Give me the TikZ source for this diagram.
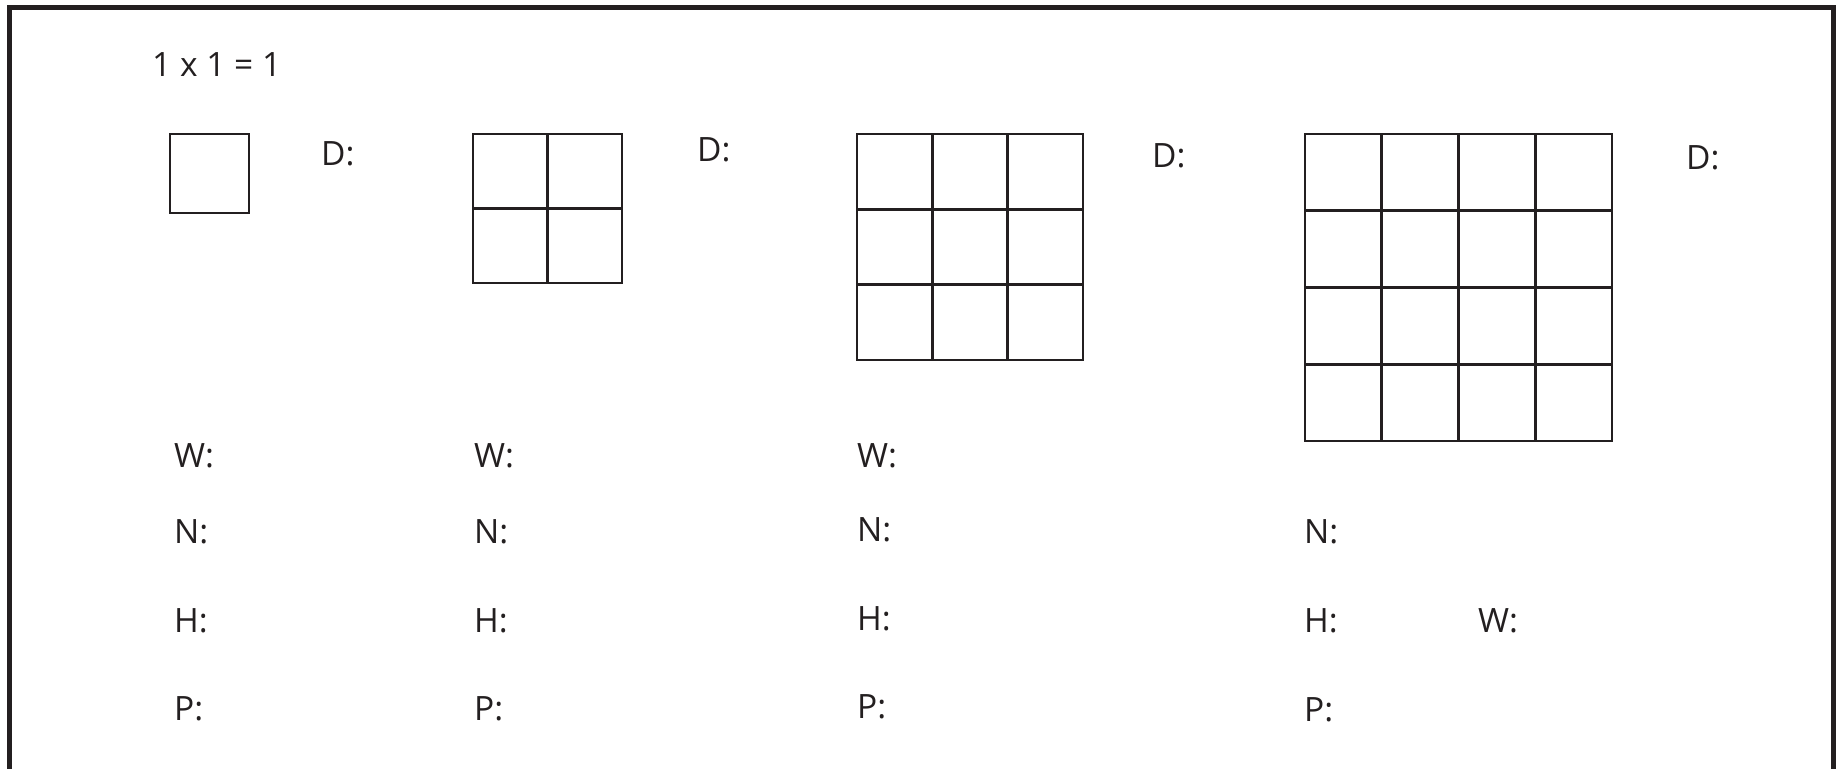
\documentclass[tikz,border=0pt]{standalone}
\usepackage{fontspec}
\setmainfont{Open Sans}
\definecolor{ink}{HTML}{231F20}

\begin{document}
\begin{tikzpicture}[x=1pt, y=-1pt, line join=miter,
  lbl/.style={anchor=base west, inner sep=0pt, text=ink,
    font=\fontsize{33.5}{40}\selectfont},
  gridline/.style={draw=ink, line width=2.6pt, line cap=rect}]
  \useasboundingbox (0,0) rectangle (1841,768);
  % outer frame, open at the bottom
  \draw[ink, line width=5pt] (9.5,775) -- (9.5,7.5) -- (1833.5,7.5) -- (1833.5,775);
  \node[lbl] (title) at (152,76) {1 x 1 = 1};
  % square 1: 1 x 1
  \draw[gridline] (170,134) rectangle (249,213);
  \node[lbl] (d1) at (321,165) {D:};
  \node[lbl] (w1) at (174,467) {W:};
  \node[lbl] (n1) at (174,543) {N:};
  \node[lbl] (h1) at (174,632) {H:};
  \node[lbl] (p1) at (174,720) {P:};
  % square 2: 2 x 2
  \foreach \i in {0,1,2} {
    \draw[gridline] (473+74.5*\i,134) -- (473+74.5*\i,283);
    \draw[gridline] (473,134+74.5*\i) -- (622,134+74.5*\i);
  }
  \node[lbl] (d2) at (697,161) {D:};
  \node[lbl] (w2) at (474,467) {W:};
  \node[lbl] (n2) at (474,543) {N:};
  \node[lbl] (h2) at (474,632) {H:};
  \node[lbl] (p2) at (474,720) {P:};
  % square 3: 3 x 3
  \foreach \i in {0,...,3} {
    \draw[gridline] (857+75.33*\i,134) -- (857+75.33*\i,360);
    \draw[gridline] (857,134+75.33*\i) -- (1083,134+75.33*\i);
  }
  \node[lbl] (d3) at (1152,167) {D:};
  \node[lbl] (w3) at (857,467) {W:};
  \node[lbl] (n3) at (857,541) {N:};
  \node[lbl] (h3) at (857,630) {H:};
  \node[lbl] (p3) at (857,718) {P:};
  % square 4: 4 x 4
  \foreach \i in {0,...,4} {
    \draw[gridline] (1305+76.75*\i,134) -- (1305+76.75*\i,441);
    \draw[gridline] (1305,134+76.75*\i) -- (1612,134+76.75*\i);
  }
  \node[lbl] (d4) at (1686,169) {D:};
  \node[lbl] (n4) at (1304,543) {N:};
  \node[lbl] (h4) at (1304,632) {H:};
  \node[lbl] (w4) at (1478,632) {W:};
  \node[lbl] (p4) at (1304,721) {P:};
\end{tikzpicture}
\end{document}
